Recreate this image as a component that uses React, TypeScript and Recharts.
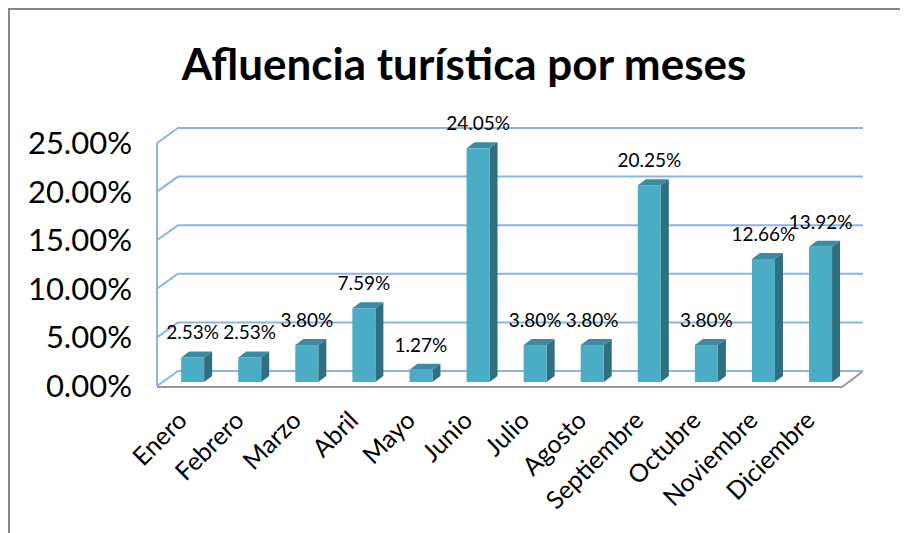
import { Bar, BarChart, CartesianGrid, LabelList, XAxis, YAxis } from "recharts";

const MONTHS = [
  "Enero",
  "Febrero",
  "Marzo",
  "Abril",
  "Mayo",
  "Junio",
  "Julio",
  "Agosto",
  "Septiembre",
  "Octubre",
  "Noviembre",
  "Diciembre",
];
const SHARE = [2.53, 2.53, 3.8, 7.59, 1.27, 24.05, 3.8, 3.8, 20.25, 3.8, 12.66, 13.92];
const Y_TICKS = [0, 5, 10, 15, 20, 25];

const W = 900;
const H = 525;
const MARGIN = { top: 135, right: 66, bottom: 107, left: 49 };
const FLOOR_Y = H - MARGIN.bottom - 40;

// fake 3D: back wall offset and bar depth
const WALL_DX = 21;
const WALL_DY = -15;
const BAR_SHIFT_X = 7;
const BAR_SHIFT_Y = -4;
const BAR_DX = 8;
const BAR_DY = -6;

const FONT = "Lato, 'Noto Sans', sans-serif";
const GRID = "#8DB3E2";

const pct = (v: number) => `${v.toFixed(2)}%`;

function GridLine(props: any) {
  const { x1, y1, x2, y2 } = props;
  const back = `M${x1},${y1} L${x1 + WALL_DX},${y1 + WALL_DY} L${x2 + WALL_DX},${y2 + WALL_DY}`;
  const isFloor = Math.abs(y1 - FLOOR_Y) < 1;
  return (
    <g key={props.key}>
      <path d={back} fill="none" stroke={GRID} strokeWidth={2} />
      {isFloor && (
        <path
          d={`M${x1},${y1 + 1} L${x2},${y2 + 1} L${x2 + WALL_DX - 1},${y2 + WALL_DY + 1}`}
          fill="none"
          stroke="#9A9A9A"
          strokeWidth={2}
        />
      )}
    </g>
  );
}

function Bar3D(props: any) {
  const { x, y, width, height } = props;
  const x0 = x + BAR_SHIFT_X;
  const y0 = y + BAR_SHIFT_Y;
  const x1 = x0 + width;
  const y1 = y0 + height;
  return (
    <g>
      <polygon
        points={`${x0},${y0} ${x0 + BAR_DX},${y0 + BAR_DY} ${x1 + BAR_DX},${y0 + BAR_DY} ${x1},${y0}`}
        fill="#3B8CA2"
      />
      <polygon
        points={`${x1},${y0} ${x1 + BAR_DX},${y0 + BAR_DY} ${x1 + BAR_DX},${y1 + BAR_DY} ${x1},${y1}`}
        fill="#2F6F80"
      />
      <rect x={x0} y={y0} width={width} height={height} fill="#4BACC6" />
    </g>
  );
}

function ValueLabel(props: any) {
  const { x, y, width, value } = props;
  return (
    <text
      x={x + BAR_SHIFT_X + width / 2}
      y={y + BAR_SHIFT_Y - 18}
      textAnchor="middle"
      fontFamily={FONT}
      fontSize={19}
      fill="#000"
    >
      {pct(value)}
    </text>
  );
}

function MonthTick(props: any) {
  const { x, y, payload } = props;
  const ax = x + 3;
  const ay = y + 28;
  return (
    <text
      x={ax}
      y={ay}
      transform={`rotate(-45 ${ax} ${ay})`}
      textAnchor="end"
      fontFamily={FONT}
      fontSize={25}
      fill="#000"
    >
      {payload.value}
    </text>
  );
}

export default function App() {
  const data = MONTHS.map((month, i) => ({ month, share: SHARE[i] }));

  return (
    <div style={{ position: "relative", width: W, height: H, background: "#fff" }}>
      <div
        style={{
          position: "absolute",
          left: 0,
          top: 0,
          width: W,
          height: H,
          borderTop: "2px solid #878787",
          borderLeft: "2px solid #878787",
          boxSizing: "border-box",
        }}
      />
      <div
        style={{
          position: "absolute",
          left: 0,
          width: W,
          top: 27,
          textAlign: "center",
          fontFamily: FONT,
          fontWeight: 700,
          fontSize: 44,
          lineHeight: "56px",
          paddingLeft: 12,
          boxSizing: "border-box",
        }}
      >
        Afluencia turística por meses
      </div>
      <BarChart width={W} height={H} data={data} margin={MARGIN} barCategoryGap="30%">
        <CartesianGrid vertical={false} horizontal={GridLine} />
        <XAxis
          dataKey="month"
          axisLine={false}
          tickLine={false}
          interval={0}
          height={40}
          tick={MonthTick}
        />
        <YAxis
          domain={[0, 25]}
          ticks={Y_TICKS}
          tickFormatter={pct}
          width={100}
          axisLine={{ stroke: GRID, strokeWidth: 2 }}
          tickLine={false}
          tickMargin={19}
          tick={{ fontFamily: FONT, fontSize: 31, fill: "#000" }}
        />
        <Bar dataKey="share" shape={Bar3D} isAnimationActive={false}>
          <LabelList dataKey="share" content={ValueLabel} />
        </Bar>
      </BarChart>
    </div>
  );
}
